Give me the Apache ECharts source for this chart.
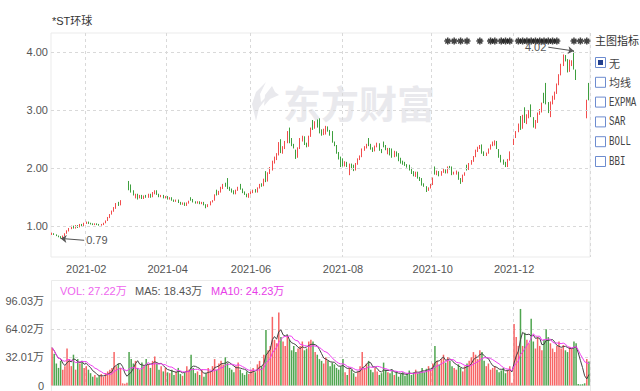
<!DOCTYPE html>
<html><head><meta charset="utf-8">
<script src="https://cdn.jsdelivr.net/npm/echarts@6/dist/echarts.min.js"></script>
<style>html,body{margin:0;padding:0;background:#fff}#c{width:640px;height:391px}</style>
</head><body><div id="c"></div>
<script>
// ---- categories: trading days ----
const tradeMonths = ['2021-01','2021-02','2021-03','2021-04','2021-05','2021-06','2021-07','2021-08','2021-09','2021-10','2021-11','2021-12','2022-01'];
const tradeDays = [
  [8,11,12,13,14,15,18,19,20,21,22,25,26,27,28,29],
  [1,2,3,4,5,8,9,10,18,19,22,23,24,25,26],
  [1,2,3,4,5,8,9,10,11,12,15,16,17,18,19,22,23,24,25,26,29,30,31],
  [1,2,6,7,8,9,12,13,14,15,16,19,20,21,22,23,26,27,28,29,30],
  [6,7,10,11,12,13,14,17,18,19,20,21,24,25,26,27,28,31],
  [1,2,3,4,7,8,9,10,11,15,16,17,18,21,22,23,24,25,28,29,30],
  [1,2,5,6,7,8,9,12,13,14,15,16,19,20,21,22,23,26,27,28,29,30],
  [2,3,4,5,6,9,10,11,12,13,16,17,18,19,20,23,24,25,26,27,30,31],
  [1,2,3,6,7,8,9,10,13,14,15,16,17,22,23,24,27,28,29,30],
  [8,11,12,13,14,15,18,19,20,21,22,25,26,27,28,29],
  [1,2,3,4,5,8,9,10,11,12,15,16,17,18,19,22,23,24,25,26,29,30],
  [1,2,3,6,7,8,9,10,13,14,15,16,17,20,21,22,23,24,27,28,29,30,31],
  [4,5,6,7,10,11,12,13,14,17,18,19,20]
];
// ---- candles: [open, close, low, high] ----
const candles = [
 // 2021-01
 [0.86,0.88,0.85,0.89],[0.87,0.86,0.85,0.88],[0.86,0.84,0.83,0.86],[0.84,0.82,0.81,0.84],[0.82,0.80,0.79,0.83],[0.80,0.84,0.80,0.84],[0.84,0.88,0.83,0.88],[0.88,0.92,0.87,0.93],[0.92,0.96,0.91,0.97],[0.96,1.00,0.95,1.01],[1.00,0.97,0.96,1.01],[0.97,1.01,0.96,1.02],[1.01,0.98,0.97,1.02],[0.98,1.03,0.98,1.04],[1.03,1.01,1.00,1.04],[1.01,1.05,1.00,1.06],
 // 2021-02
 [1.05,1.07,1.04,1.08],[1.07,1.05,1.04,1.08],[1.05,1.04,1.03,1.06],[1.04,1.03,1.02,1.05],[1.03,1.04,1.02,1.05],[1.04,1.03,1.02,1.05],[1.03,1.02,1.01,1.04],[1.02,1.03,1.01,1.04],[1.03,1.05,1.02,1.06],[1.05,1.10,1.05,1.10],[1.10,1.15,1.09,1.16],[1.15,1.21,1.14,1.21],[1.21,1.27,1.20,1.27],[1.27,1.33,1.25,1.33],[1.33,1.38,1.30,1.40],
 // 2021-03
 [1.40,1.37,1.35,1.42],[1.37,1.44,1.36,1.45],[1.51,1.51,1.51,1.51],[1.59,1.59,1.59,1.59],[1.67,1.67,1.67,1.67],[1.75,1.66,1.62,1.78],[1.70,1.60,1.58,1.72],[1.60,1.55,1.53,1.62],[1.50,1.55,1.48,1.56],[1.55,1.49,1.46,1.56],[1.49,1.53,1.48,1.54],[1.53,1.48,1.47,1.54],[1.48,1.52,1.47,1.53],[1.52,1.50,1.49,1.54],[1.50,1.55,1.49,1.56],[1.55,1.50,1.49,1.56],[1.50,1.58,1.50,1.59],[1.56,1.61,1.55,1.62],[1.61,1.55,1.54,1.62],[1.55,1.51,1.50,1.56],[1.51,1.53,1.50,1.54],[1.53,1.49,1.48,1.54],[1.49,1.51,1.48,1.52],
 // 2021-04
 [1.51,1.47,1.46,1.52],[1.47,1.49,1.46,1.50],[1.49,1.45,1.44,1.50],[1.45,1.43,1.42,1.46],[1.43,1.45,1.42,1.46],[1.45,1.41,1.40,1.46],[1.41,1.38,1.37,1.42],[1.38,1.40,1.37,1.41],[1.40,1.36,1.35,1.41],[1.36,1.40,1.35,1.41],[1.40,1.42,1.39,1.44],[1.49,1.46,1.44,1.50],[1.46,1.42,1.41,1.47],[1.42,1.40,1.39,1.43],[1.40,1.42,1.39,1.43],[1.42,1.39,1.38,1.43],[1.39,1.41,1.38,1.42],[1.41,1.37,1.36,1.42],[1.37,1.33,1.31,1.38],[1.33,1.37,1.33,1.38],[1.37,1.42,1.36,1.43],
 // 2021-05
 [1.42,1.44,1.41,1.45],[1.44,1.54,1.44,1.55],[1.62,1.55,1.53,1.63],[1.55,1.60,1.54,1.61],[1.60,1.66,1.58,1.68],[1.66,1.72,1.64,1.73],[1.72,1.70,1.68,1.75],[1.80,1.66,1.64,1.83],[1.66,1.63,1.61,1.68],[1.63,1.60,1.58,1.65],[1.60,1.56,1.55,1.62],[1.56,1.62,1.55,1.63],[1.62,1.67,1.61,1.68],[1.72,1.64,1.63,1.73],[1.64,1.58,1.57,1.65],[1.58,1.55,1.54,1.60],[1.55,1.52,1.50,1.56],[1.52,1.56,1.49,1.57],
 // 2021-06
 [1.56,1.58,1.55,1.60],[1.58,1.62,1.57,1.63],[1.62,1.59,1.58,1.64],[1.59,1.66,1.58,1.67],[1.66,1.72,1.65,1.73],[1.72,1.69,1.68,1.74],[1.70,1.80,1.69,1.82],[1.93,1.78,1.76,1.95],[1.78,1.92,1.77,1.93],[1.92,2.00,1.90,2.02],[1.98,2.11,1.96,2.13],[2.11,2.18,2.08,2.20],[2.16,2.24,2.14,2.26],[2.24,2.42,2.22,2.45],[2.46,2.28,2.26,2.50],[2.28,2.36,2.25,2.38],[2.36,2.45,2.33,2.47],[2.45,2.62,2.43,2.64],[2.66,2.45,2.43,2.70],[2.48,2.40,2.38,2.52],[2.40,2.36,2.34,2.42],
 // 2021-07
 [2.30,2.22,2.16,2.32],[2.20,2.35,2.18,2.36],[2.35,2.50,2.33,2.52],[2.50,2.53,2.46,2.56],[2.53,2.42,2.40,2.55],[2.42,2.38,2.36,2.44],[2.38,2.55,2.37,2.56],[2.55,2.68,2.54,2.70],[2.72,2.70,2.66,2.83],[2.70,2.80,2.68,2.81],[2.80,2.72,2.70,2.84],[2.78,2.62,2.60,2.86],[2.65,2.58,2.56,2.67],[2.58,2.66,2.57,2.68],[2.60,2.71,2.58,2.73],[2.71,2.65,2.63,2.72],[2.65,2.58,2.56,2.66],[2.62,2.45,2.44,2.64],[2.45,2.40,2.38,2.46],[2.38,2.27,2.25,2.40],[2.26,2.17,2.15,2.28],[2.18,2.05,2.02,2.20],
 // 2021-08
 [2.12,2.05,2.03,2.17],[2.05,2.10,2.03,2.12],[2.10,2.04,2.02,2.11],[1.95,2.06,1.88,2.08],[2.06,2.00,1.98,2.08],[2.05,1.97,1.95,2.06],[1.97,2.08,1.96,2.09],[2.08,2.16,2.06,2.17],[2.16,2.20,2.14,2.22],[2.20,2.32,2.19,2.34],[2.32,2.36,2.30,2.38],[2.36,2.40,2.34,2.42],[2.50,2.40,2.38,2.52],[2.40,2.34,2.32,2.42],[2.34,2.30,2.28,2.36],[2.30,2.38,2.29,2.39],[2.38,2.42,2.36,2.44],[2.42,2.31,2.30,2.43],[2.31,2.28,2.26,2.33],[2.44,2.38,2.36,2.46],[2.38,2.33,2.31,2.40],[2.26,2.33,2.24,2.35],
 // 2021-09
 [2.33,2.24,2.22,2.35],[2.32,2.20,2.18,2.34],[2.20,2.28,2.19,2.30],[2.28,2.22,2.20,2.29],[2.25,2.14,2.12,2.26],[2.16,2.10,2.08,2.18],[2.12,2.08,2.06,2.13],[2.10,2.05,2.04,2.11],[2.06,2.03,2.01,2.07],[2.05,1.98,1.96,2.06],[2.00,1.92,1.90,2.01],[1.93,1.88,1.86,1.95],[1.86,1.93,1.85,1.94],[1.93,1.84,1.82,1.94],[1.84,1.80,1.78,1.85],[1.82,1.72,1.70,1.83],[1.73,1.70,1.68,1.74],[1.68,1.62,1.59,1.69],[1.62,1.66,1.61,1.67],[1.66,1.72,1.65,1.73],
 // 2021-10
 [1.72,1.83,1.71,1.84],[2.00,1.91,1.89,2.03],[1.91,1.94,1.88,1.96],[1.94,1.88,1.86,1.95],[1.88,1.94,1.87,1.95],[1.94,1.97,1.92,1.99],[1.97,1.92,1.91,1.98],[1.92,2.02,1.91,2.03],[2.02,2.00,1.98,2.04],[2.02,1.90,1.88,2.03],[1.90,1.93,1.89,1.94],[1.90,1.95,1.89,1.96],[1.93,1.82,1.80,1.94],[1.82,1.77,1.73,1.83],[1.77,1.88,1.76,1.89],[1.88,1.92,1.87,1.93],
 // 2021-11
 [2.05,1.98,1.96,2.06],[1.98,2.08,1.97,2.09],[2.08,2.12,2.06,2.14],[2.12,2.20,2.11,2.21],[2.20,2.30,2.19,2.32],[2.30,2.36,2.28,2.37],[2.36,2.38,2.33,2.40],[2.40,2.27,2.25,2.41],[2.28,2.23,2.21,2.29],[2.23,2.26,2.21,2.27],[2.26,2.33,2.25,2.34],[2.33,2.40,2.32,2.41],[2.40,2.45,2.38,2.46],[2.40,2.46,2.39,2.48],[2.46,2.35,2.33,2.47],[2.32,2.20,2.18,2.33],[2.22,2.12,2.10,2.23],[2.14,2.08,2.06,2.15],[2.10,2.04,2.02,2.11],[2.04,2.15,2.02,2.16],[2.14,2.28,2.13,2.29],[2.39,2.39,2.39,2.39],
 // 2021-12
 [2.42,2.51,2.40,2.51],[2.55,2.64,2.52,2.64],[2.66,2.77,2.62,2.77],[2.86,2.70,2.66,2.90],[2.70,2.85,2.68,2.92],[3.00,2.80,2.78,3.05],[2.80,2.90,2.76,2.93],[2.90,2.96,2.86,3.00],[3.08,2.90,2.88,3.10],[2.86,2.72,2.70,2.88],[2.72,2.80,2.68,2.83],[2.80,2.95,2.78,2.96],[2.95,2.98,2.92,3.02],[2.98,3.12,2.96,3.13],[3.25,3.16,3.12,3.30],[3.40,3.14,3.10,3.47],[3.10,3.00,2.95,3.14],[2.90,3.14,2.88,3.15],[3.14,3.22,3.10,3.25],[3.22,3.30,3.18,3.32],[3.30,3.45,3.28,3.46],[3.45,3.62,3.43,3.62],[3.62,3.78,3.60,3.80],
 // 2022-01
 [3.78,3.93,3.76,3.96],[3.92,3.88,3.84,3.95],[3.86,3.68,3.65,3.88],[3.68,3.84,3.66,3.87],[3.80,3.84,3.76,3.86],[3.98,3.72,3.70,4.02],[3.69,3.53,3.52,3.70],[3.35,3.35,3.35,3.35],[3.18,3.18,3.18,3.18],[3.02,3.02,3.02,3.02],[2.87,2.87,2.87,2.87],[2.88,3.15,2.86,3.18],[3.42,3.20,3.17,3.47]
];
// ---- volume, 万股 ----
const volumes = [
 43,36,25,20,28,18,22,42,30,22,35,18,30,25,28,20,
 22,18,14,10,12,9,11,13,10,14,16,18,20,38,22,
 25,20,2.5,2.0,3.0,38,30,25,28,20,18,26,22,30,24,20,28,33,25,18,22,16,20,
 15,14,18,12,16,20,13,11,15,22,18,35,20,14,16,12,18,10,14,20,16,
 22,30,18,25,28,24,32,26,20,18,15,22,26,18,14,12,16,13,
 18,20,15,24,28,22,35,63,40,45,78,52,48,83,55,50,45,56,52,40,45,
 38,42,45,50,40,42,50,52,50,38,35,30,28,25,32,28,22,26,24,20,18,22,
 30,15,12,20,18,14,10,16,22,38,20,25,28,18,15,20,16,12,14,26,18,15,
 14,18,12,16,10,13,15,11,14,17,12,15,18,14,16,20,15,19,22,18,
 25,45,28,24,30,35,26,32,28,22,20,18,24,20,16,22,
 25,28,32,38,35,30,40,38,28,22,25,18,20,22,18,15,17,20,14,18,22,3,
 70,55,45,87,45,60,52,48,76,50,42,55,45,40,52,64,55,48,42,38,45,50,42,
 46,40,38,44,42,50,48,1.8,1.2,1.5,2.5,30,27.22
];
// ---- marker days (index of trading day with ✱ marker) ----
const starDays = [185,188,191,194,200,205,207,210,212,214,218,220,222,224,226,228,230,232,234,236,244,247,250];
const priceTicks = [1, 2, 3, 4];
const labelMonths = ['02','04','06','08','10','12'];
const volLegend = ['VOL: 27.22万', 'MA5: 18.43万', 'MA10: 24.23万'];
const indicatorTitle = '主图指标';
const indicatorItems = ['无', '均线', 'EXPMA', 'SAR', 'BOLL', 'BBI'];
const highMark = {idx: 244, value: 4.02, labelIdx: 232, labelValue: 4.085};
const lowMark = {idx: 4, value: 0.79, labelIdx: 15, labelValue: 0.758};

// ---- build ----
const dates = [];
tradeMonths.forEach((m, k) => tradeDays[k].forEach(d => dates.push(m + '-' + String(d).padStart(2, '0'))));
const labelIdx = new Set();
dates.forEach((d, i) => {
  if (i > 0 && d.slice(0, 7) !== dates[i - 1].slice(0, 7) && d.startsWith('2021') && labelMonths.includes(d.slice(5, 7))) labelIdx.add(i);
});
const RED = '#f24d4d', GREEN = '#3e9f3e';
const VRED = '#f76565', VGREEN = '#4fa54f';
const isUp = candles.map((c, i) => c[1] > c[0] ? true : c[1] < c[0] ? false : (i > 0 ? c[1] >= candles[i - 1][1] : true));
const volData = volumes.map((v, i) => ({value: v, itemStyle: {color: isUp[i] ? VRED : VGREEN}}));
function movingAvg(n) {
  return volumes.map((v, i) => {
    const s = Math.max(0, i - n + 1); let sum = 0;
    for (let k = s; k <= i; k++) sum += volumes[k];
    return +(sum / (i - s + 1)).toFixed(2);
  });
}
const ma5 = movingAvg(5), ma10 = movingAvg(10);
const intervalFn = (idx) => labelIdx.has(idx);
const dash = [3, 3];
const FONT = '"Liberation Sans", "Noto Sans CJK SC", sans-serif';

const chart = echarts.init(document.getElementById('c'), null, {renderer: 'svg'});
const gfx = [];
gfx.push({type: 'text', left: 52, top: 15, style: {text: '*ST环球', fill: '#333', font: '11px ' + FONT}});
// watermark
gfx.push({type: 'polygon', z: 0, silent: true, shape: {points: [[266,82],[256,92],[252,104],[256,121],[259,108],[266,99],[277,93],[268,95],[261,102],[260,94]]}, style: {fill: '#e9e9ed'}});
gfx.push({type: 'polygon', z: 0, silent: true, shape: {points: [[272,86],[265,95],[264,106],[270,99],[279,95],[275,92]]}, style: {fill: '#e9e9ed'}});
gfx.push({type: 'text', z: 0, silent: true, left: 283, top: 82, style: {text: '东方财富', fill: '#e9e9ed', font: 'bold 38px "Noto Sans CJK SC", sans-serif'}});
// volume panel frame
gfx.push({type: 'rect', silent: true, shape: {x: 51.5, y: 280.5, width: 539, height: 120}, style: {fill: 'none', stroke: '#ebebeb', lineWidth: 1}});
const legendColors = ['#ee66ee', '#555555', '#e83de8'];
const legendX = [60, 135, 211];
volLegend.forEach((t, k) => gfx.push({type: 'text', left: legendX[k], top: 285, style: {text: t, fill: legendColors[k], font: '11px ' + FONT}}));
// indicator panel
gfx.push({type: 'text', left: 595, top: 34, style: {text: indicatorTitle, fill: '#333', font: '11px "Noto Sans CJK SC", sans-serif'}});
indicatorItems.forEach((t, k) => {
  const y = 57 + 19.8 * k;
  gfx.push({type: 'rect', shape: {x: 595.5, y: y + 0.5, width: 10, height: 10}, style: {fill: '#fff', stroke: '#6d8ccf', lineWidth: 1}});
  if (k === 0) gfx.push({type: 'rect', shape: {x: 598, y: y + 3, width: 5, height: 5}, style: {fill: '#23408e'}});
  const latin = /^[A-Z]+$/.test(t);
  gfx.push({type: 'text', x: 609, y: y + 5.5, scaleX: latin ? 0.7 : 1, style: {text: t, fill: '#444', verticalAlign: 'middle', font: latin ? '13px "Liberation Mono", monospace' : '11px "Noto Sans CJK SC", sans-serif'}});
});

const starPath = 'path://M5,0 L5,10 M0,5 L10,5 M1.5,1.5 L8.5,8.5 M8.5,1.5 L1.5,8.5';

chart.setOption({
  animation: false,
  textStyle: {fontFamily: FONT},
  graphic: gfx,
  grid: [
    {left: 51, top: 33, width: 539, height: 224, show: true, borderColor: '#ebebeb', borderWidth: 1},
    {left: 51, top: 301, width: 539, height: 85.5, show: true, borderColor: '#ebebeb', borderWidth: 1}
  ],
  xAxis: [
    {type: 'category', gridIndex: 0, data: dates, boundaryGap: true,
     axisLine: {show: false}, axisTick: {show: false},
     axisLabel: {interval: intervalFn, formatter: v => v.slice(0, 7), color: '#555', fontSize: 11, margin: 6},
     splitLine: {show: true, interval: intervalFn, lineStyle: {type: dash, color: '#d9d9d9'}}},
    {type: 'category', gridIndex: 1, data: dates, boundaryGap: true,
     axisLine: {show: false}, axisTick: {show: false}, axisLabel: {show: false},
     splitLine: {show: true, interval: intervalFn, lineStyle: {type: dash, color: '#d9d9d9'}}}
  ],
  yAxis: [
    {type: 'value', gridIndex: 0, min: 0.47, max: 4.33, scale: true,
     axisLine: {show: false}, axisTick: {show: false}, splitLine: {show: false},
     axisLabel: {customValues: priceTicks, formatter: v => v.toFixed(2), color: '#555', fontSize: 11, margin: 3}},
    {type: 'value', gridIndex: 1, min: 0, max: 96.03, interval: 32.01,
     axisLine: {show: false}, axisTick: {show: false},
     splitLine: {show: true, showMaxLine: false, showMinLine: false, lineStyle: {type: dash, color: '#d9d9d9'}},
     axisLabel: {formatter: v => v === 0 ? '0' : v.toFixed(2) + '万', color: '#555', fontSize: 11, margin: 7}}
  ],
  series: [
    {type: 'candlestick', xAxisIndex: 0, yAxisIndex: 0, data: candles, barWidth: 1.2,
     itemStyle: {color: RED, color0: GREEN, borderColor: RED, borderColor0: GREEN, borderWidth: 1},
     markLine: {silent: true, symbol: ['none', 'none'], animation: false,
       label: {show: false}, lineStyle: {type: dash, color: '#d9d9d9', width: 1},
       data: priceTicks.map(v => ({yAxis: v})).concat([
         [{coord: [dates[highMark.idx], highMark.value], symbol: 'arrow', symbolSize: 6},
          {coord: [dates[highMark.labelIdx], highMark.labelValue], symbol: 'none',
           lineStyle: {type: 'solid', color: '#555', width: 1},
           label: {show: true, position: 'end', formatter: highMark.value.toFixed(2), color: '#555', fontSize: 11, distance: 2}}],
         [{coord: [dates[lowMark.idx], lowMark.value], symbol: 'arrow', symbolSize: 6},
          {coord: [dates[lowMark.labelIdx], lowMark.labelValue], symbol: 'none',
           lineStyle: {type: 'solid', color: '#555', width: 1},
           label: {show: true, position: 'end', formatter: lowMark.value.toFixed(2), color: '#555', fontSize: 11, distance: 2}}]
       ])}},
    {type: 'scatter', xAxisIndex: 0, yAxisIndex: 0, symbol: starPath, symbolSize: 7, silent: true,
     itemStyle: {color: 'none', borderColor: '#111', borderWidth: 1.5},
     data: starDays.map(i => [dates[i], 4.19])},
    {type: 'bar', xAxisIndex: 1, yAxisIndex: 1, data: volData, barWidth: 1.5},
    {type: 'line', xAxisIndex: 1, yAxisIndex: 1, data: ma5, showSymbol: false, symbol: 'none', lineStyle: {color: '#444', width: 1}},
    {type: 'line', xAxisIndex: 1, yAxisIndex: 1, data: ma10, showSymbol: false, symbol: 'none', lineStyle: {color: '#f03cf0', width: 1}}
  ]
});
</script>
</body></html>
